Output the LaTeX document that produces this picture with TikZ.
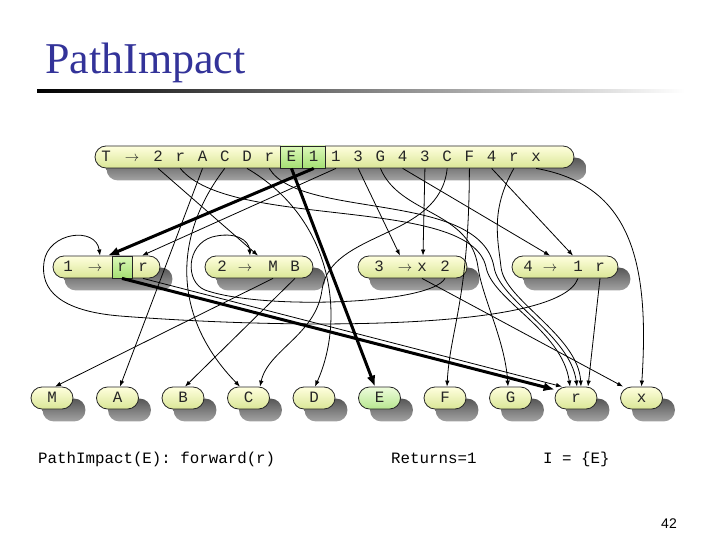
\documentclass[tikz,border=0pt]{standalone}
\usepackage{fontspec}
\setmainfont{Liberation Serif}
\setmonofont{Liberation Mono}
\newfontfamily\numfont{Liberation Sans}
\usetikzlibrary{arrows.meta,backgrounds}
\definecolor{titleblue}{RGB}{51,51,153}
\definecolor{boxtop}{RGB}{255,255,222}
\definecolor{boxbot}{RGB}{218,230,150}
\definecolor{hitop}{RGB}{220,248,185}
\definecolor{hibot}{RGB}{165,224,115}
\tikzset{
  pill/.style={draw=black!85, line width=0.8pt, rounded corners=11pt, minimum height=22pt, inner sep=0pt, top color=boxtop, bottom color=boxbot},
  hipill/.style={pill, top color=hitop!50!white, bottom color=hibot!80!white},
  hicell/.style={draw=black!85, line width=0.8pt, top color=hitop, bottom color=hibot},
  shadowbox/.style={rounded corners=11pt, top color=black!66, bottom color=black!36},
  sym/.style={anchor=base, inner sep=0pt, font=\fontsize{15.8}{18}\selectfont\ttfamily, text=black!85},
  edge/.style={line width=0.8pt, -{Latex[length=6pt,width=4.5pt]}},
  hot/.style={line width=3pt, -{Latex[length=11pt,width=9pt]}}
}
\begin{document}
\begin{tikzpicture}[x=1pt,y=-1pt]
\useasboundingbox (0,0) rectangle (720,540);
\node[anchor=base west, inner sep=0pt, text=titleblue, font=\fontsize{44}{50}\selectfont] (title) at (45,74) {PathImpact};
\shade[left color=black, right color=white] (37,90) rectangle (685,93);

\node[pill, minimum width=479pt] (T) at (334.5,157) {};
\draw[hicell] (280.5,146) rectangle (302.7,168);
\draw[hicell] (302.7,146) rectangle (324.9,168);
\node[sym] (t0) at (106,161.5) {T};
\node[sym] (ta) at (132,161.5) {$\rightarrow$};
\foreach \s [count=\i] in {2,r,A,C,D,r,E,1,1,3,G,4,3,C,F,4,r,x}
  \node[sym] (t\i) at ({135.8+22.24*\i},161.5) {\s};

\node[pill, minimum width=107pt] (R1) at (106.5,267) {};
\draw[hicell] (112,256) rectangle (132,278);
\node[sym] (a0) at (68,271.5) {1};
\node[sym] (aa) at (95,271.5) {$\rightarrow$};
\node[sym] (a1) at (122,271.5) {r};
\node[sym] (a2) at (143,271.5) {r};

\node[pill, minimum width=108pt] (R2) at (259,267) {};
\node[sym] (b0) at (222,271.5) {2};
\node[sym] (ba) at (245,271.5) {$\rightarrow$};
\node[sym] (b1) at (273,271.5) {M};
\node[sym] (b2) at (295,271.5) {B};

\node[pill, minimum width=109pt] (R3) at (412.5,267) {};
\node[sym] (c0) at (379,271.5) {3};
\node[sym] (ca) at (405,271.5) {$\rightarrow$};
\node[sym] (c1) at (422,271.5) {x};
\node[sym] (c2) at (445,271.5) {2};

\node[pill, minimum width=106pt] (R4) at (565,267) {};
\node[sym] (d0) at (528,271.5) {4};
\node[sym] (da) at (550,271.5) {$\rightarrow$};
\node[sym] (d1) at (578,271.5) {1};
\node[sym] (d2) at (600,271.5) {r};

\foreach \n/\f [count=\i from 0] in {M/pill,A/pill,B/pill,C/pill,D/pill,E/hipill,F/pill,G/pill,r/pill,x/pill} {
  \node[\f, minimum width=42pt] (n\n) at ({52+65.5*\i},398) {};
  \node[sym] (l\n) at ({52+65.5*\i},402.5) {\n};
}

\begin{scope}[on background layer]
\foreach \b in {T,R1,R2,R3,R4,nM,nA,nB,nC,nD,nE,nF,nG,nr,nx}
  \shade[shadowbox] ([shift={(12pt,-12pt)}]\b.south west) rectangle ([shift={(12pt,-12pt)}]\b.north east);
\end{scope}

\draw[edge] (t1 |- T.south) -- ([xshift=-1pt]R2.north);
\draw[edge] (t2 |- T.south) .. controls (230,230) and (470,195) .. (486,267) .. controls (492,300) and (562,330) .. ([xshift=-6pt]nr.north);
\draw[edge] (t3 |- T.south) -- ([xshift=2.5pt]nA.north);
\draw[edge] (t4 |- T.south) .. controls (170,240) and (175,320) .. ([xshift=-8.5pt]nC.north);
\draw[edge] (t5 |- T.south) .. controls (335,220) and (345,320) .. ([xshift=1pt]nD.north);
\draw[edge] (t6 |- T.south) .. controls (300,220) and (480,190) .. (494,267) .. controls (499,300) and (570,335) .. ([xshift=1pt]nr.north);
\draw[hot] (t7 |- T.south) -- ([xshift=-4.5pt]nE.north);
\draw[hot] (t8 |- T.south) -- ([xshift=1.5pt]R1.north);
\draw[edge] (t9 |- T.south) -- ([xshift=35.5pt]R1.north);
\draw[edge] (t10 |- T.south) -- ([xshift=-12.5pt]R3.north);
\draw[edge] (t11 |- T.south) .. controls (400,215) and (470,210) .. (478,267) .. controls (482,297) and (505,340) .. ([xshift=-2.5pt]nG.north);
\draw[edge] (t12 |- T.south) -- ([xshift=-15pt]R4.north);
\draw[edge] (t13 |- T.south) -- ([xshift=10.5pt]R3.north);
\draw[edge] (t14 |- T.south) .. controls (440,240) and (330,230) .. (322,290) .. controls (316,335) and (268,350) .. ([xshift=11.5pt]nC.north);
\draw[edge] (t15 |- T.south) .. controls (469,300) and (450,330) .. ([xshift=2pt]nF.north);
\draw[edge] (t16 |- T.south) -- ([xshift=8pt]R4.north);
\draw[edge] (t17 |- T.south) .. controls (490,210) and (498,240) .. (501,267) .. controls (504,300) and (578,335) .. ([xshift=5pt]nr.north);
\draw[edge] (t18 |- T.south) .. controls (630,185) and (650,260) .. (nx.north);

\draw[hot] (a1 |- R1.south) -- ([yshift=-3pt]nr.north west);
\draw[edge] (a2 |- R1.south) -- ([xshift=-14pt]nr.north);
\draw[edge] (b1 |- R2.south) -- ([xshift=3pt]nM.north);
\draw[edge] (b2 |- R2.south) -- ([xshift=2pt]nB.north);
\draw[edge] (c1 |- R3.south) -- ([xshift=3pt]nx.north west);
\draw[edge] (c2 |- R3.south) .. controls (430,305) and (260,310) .. (205,290) .. controls (185,282) and (186,245) .. (212,237) .. controls (235,231) and (249,240) .. ([xshift=-9pt]R2.north);
\draw[edge] (d1 |- R4.south) .. controls (560,330) and (300,330) .. (120,316) .. controls (60,311) and (40,290) .. (44,262) .. controls (48,232) and (96,226) .. ([xshift=-6.5pt]R1.north);
\draw[edge] (d2 |- R4.south) -- ([xshift=12pt]nr.north);

\node[anchor=base west, inner sep=0pt, font=\fontsize{15.8}{18}\selectfont\ttfamily] (fwd) at (38,463) {PathImpact(E): forward(r)};
\node[anchor=base west, inner sep=0pt, font=\fontsize{15.8}{18}\selectfont\ttfamily] (ret) at (391,463) {Returns=1};
\node[anchor=base west, inner sep=0pt, font=\fontsize{15.8}{18}\selectfont\ttfamily] (iset) at (543,463) {I = \{E\}};
\node[anchor=base east, inner sep=0pt, font=\numfont\fontsize{14}{16}\selectfont] (page) at (677,528) {42};
\end{tikzpicture}
\end{document}
